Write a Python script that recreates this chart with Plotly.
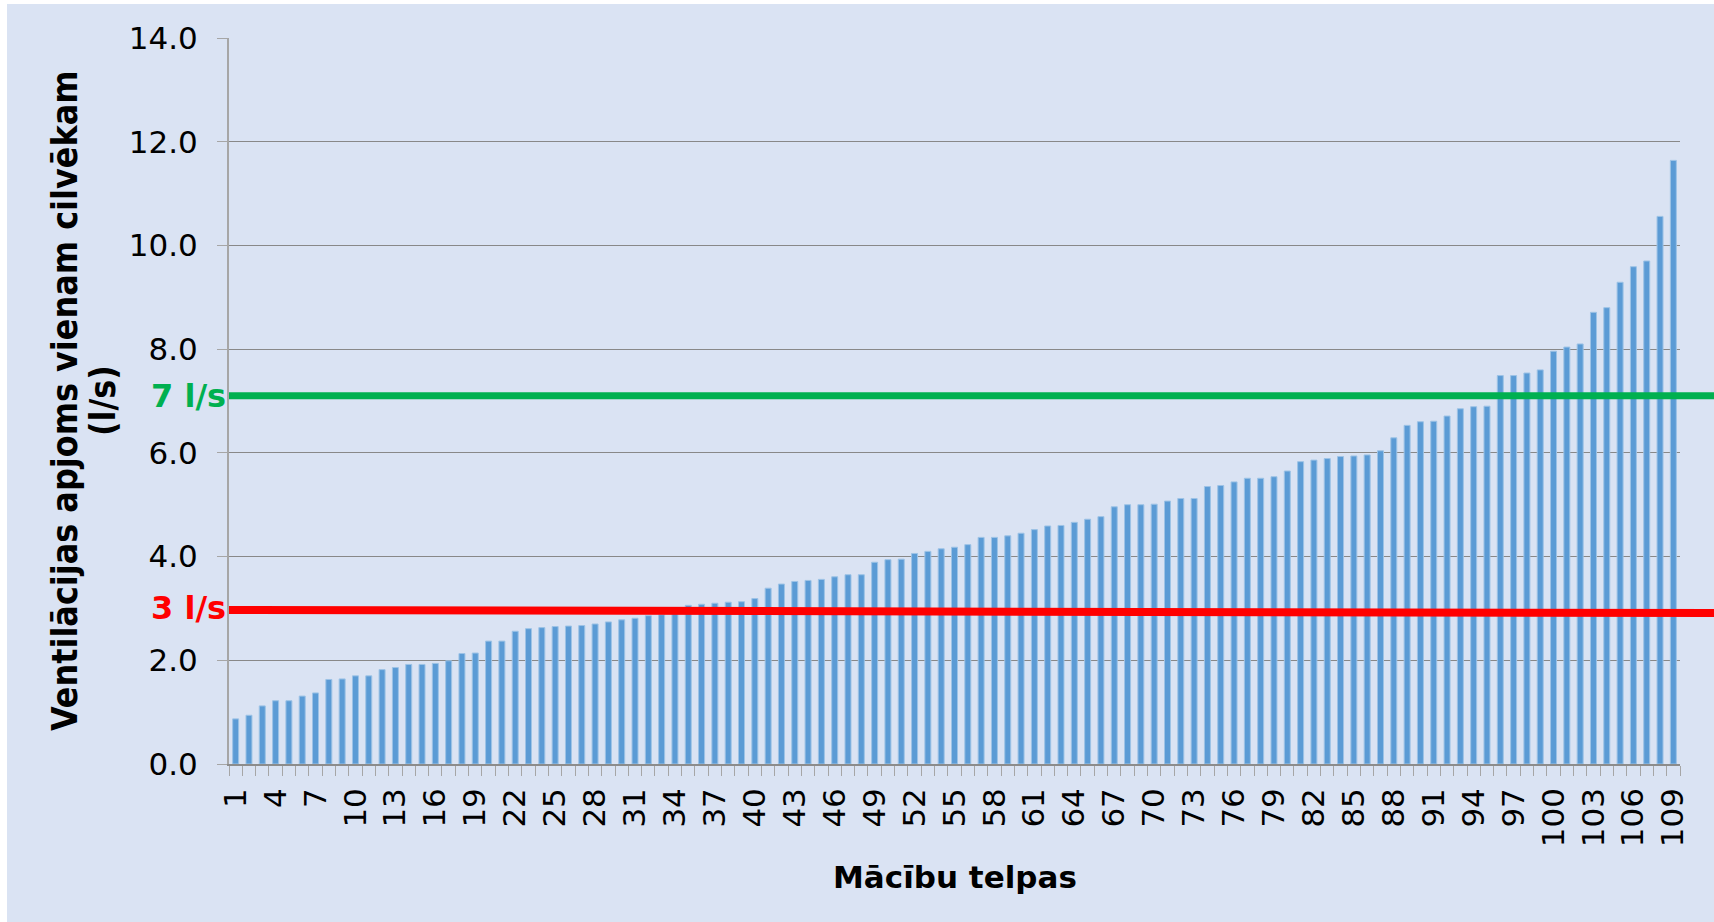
import plotly.graph_objects as go

rooms = list(range(1, 110))
values = [0.87, 0.94, 1.12, 1.22, 1.22, 1.31, 1.37, 1.63, 1.64, 1.70,
          1.70, 1.82, 1.86, 1.92, 1.92, 1.94, 1.99, 2.13, 2.14, 2.37,
          2.37, 2.56, 2.61, 2.63, 2.65, 2.66, 2.67, 2.70, 2.74, 2.78,
          2.81, 2.86, 2.88, 2.90, 3.06, 3.08, 3.10, 3.12, 3.13, 3.19,
          3.39, 3.47, 3.52, 3.54, 3.56, 3.61, 3.65, 3.65, 3.89, 3.94,
          3.95, 4.06, 4.10, 4.15, 4.18, 4.23, 4.37, 4.37, 4.40, 4.45,
          4.52, 4.59, 4.60, 4.66, 4.72, 4.77, 4.96, 5.00, 5.00, 5.01,
          5.07, 5.12, 5.12, 5.35, 5.37, 5.44, 5.51, 5.51, 5.54, 5.65,
          5.83, 5.86, 5.89, 5.93, 5.94, 5.96, 6.04, 6.29, 6.53, 6.60,
          6.61, 6.71, 6.85, 6.89, 6.90, 7.49, 7.49, 7.54, 7.60, 7.96,
          8.04, 8.10, 8.71, 8.80, 9.29, 9.59, 9.70, 10.56, 11.64]
tick_rooms = rooms[::3]
y_ticks = [0, 2, 4, 6, 8, 10, 12, 14]
green_level = 7.1
red_level_left = 2.97
red_level_right = 2.91

W, H = 1714, 922
L, R, T, B = 229, 34, 38, 158
pw, ph = W - L - R, H - T - B

def px(xp):
    return (xp - L) / pw

def py(yp):
    return (H - B - yp) / ph

BG = "#DAE3F3"
FONT = "DejaVu Sans"
COND = "DejaVu Sans Condensed, Liberation Sans Narrow, DejaVu Sans"

fig = go.Figure()
fig.add_trace(go.Bar(
    x=rooms, y=values,
    marker=dict(color="#5B9BD5", line=dict(color="#9DC3E6", width=1)),
    width=0.45,
))

fig.update_layout(
    width=W, height=H,
    margin=dict(l=L, r=R, t=T, b=B, pad=0),
    paper_bgcolor="white",
    plot_bgcolor=BG,
    showlegend=False,
    font=dict(family=FONT, color="black"),
    xaxis=dict(
        range=[0.5, 109.5],
        tickmode="array", tickvals=tick_rooms, ticktext=[str(t) for t in tick_rooms],
        tickangle=-90,
        tickfont=dict(size=31, family=FONT, color="black"),
        ticks="outside", ticklen=10, tickcolor="rgba(0,0,0,0)",
        ticklabelstandoff=0,
        minor=dict(tick0=0.5, dtick=1, ticks="outside", ticklen=10,
                   tickcolor="#A6A6A6", tickwidth=1, showgrid=False),
        showgrid=False, zeroline=False,
        showline=True, linecolor="#8C8C8C", linewidth=1.5,
    ),
    yaxis=dict(
        range=[0, 14],
        tickmode="array", tickvals=y_ticks, ticktext=[f"{v:.1f}" for v in y_ticks],
        tickfont=dict(size=31, family=FONT, color="black"),
        ticks="outside", ticklen=10, tickcolor="#A6A6A6", tickwidth=1,
        ticklabelstandoff=13,
        showgrid=True, gridcolor="#888888", gridwidth=1,
        zeroline=False,
        showline=True, linecolor="#A6A6A6", linewidth=2,
    ),
    shapes=[
        dict(type="rect", xref="paper", yref="paper",
             x0=px(7), x1=px(W + 20), y0=py(4), y1=py(H + 20),
             fillcolor=BG, line=dict(width=0), layer="below"),
        dict(type="line", xref="paper", yref="y",
             x0=0, x1=px(W + 5), y0=green_level, y1=green_level,
             line=dict(color="#00B050", width=7)),
        dict(type="line", xref="paper", yref="y",
             x0=0, x1=px(W + 5), y0=red_level_left, y1=red_level_right,
             line=dict(color="#FF0000", width=8)),
    ],
    annotations=[
        dict(text="Ventilācijas apjoms vienam cilvēkam",
             xref="paper", yref="paper", x=px(64), y=py(401),
             xanchor="center", yanchor="middle", textangle=-90, showarrow=False,
             font=dict(family=COND, size=35.5, color="black", weight="bold")),
        dict(text="(l/s)",
             xref="paper", yref="paper", x=px(102), y=py(401),
             xanchor="center", yanchor="middle", textangle=-90, showarrow=False,
             font=dict(family=COND, size=35.5, color="black", weight="bold")),
        dict(text="<b>Mācību telpas</b>", xref="paper", yref="paper",
             x=0.5, y=py(877), xanchor="center", yanchor="middle", showarrow=False,
             font=dict(family=FONT, size=31, color="black")),
        dict(text="<b>7 l/s</b>", xref="paper", yref="y", x=0, y=green_level,
             xanchor="right", yanchor="middle", xshift=-1, showarrow=False,
             font=dict(family=FONT, size=32, color="#00B050")),
        dict(text="<b>3 l/s</b>", xref="paper", yref="y", x=0, y=3.0,
             xanchor="right", yanchor="middle", xshift=-1, showarrow=False,
             font=dict(family=FONT, size=32, color="#FF0000")),
    ],
)

fig.write_html("out.html", config={"displayModeBar": False},
               post_script="document.body.style.margin='0';")
